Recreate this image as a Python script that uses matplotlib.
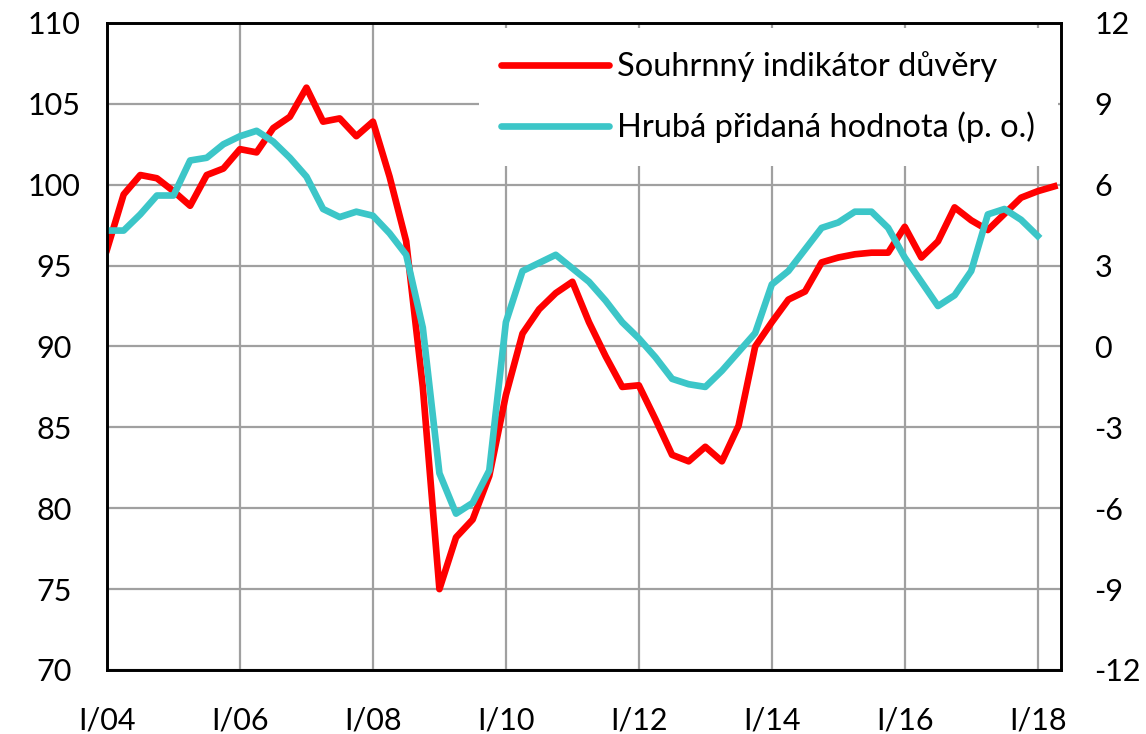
import numpy as np
import matplotlib
matplotlib.use("Agg")
import matplotlib.pyplot as plt

plt.rcParams['font.family'] = ['Lato', 'DejaVu Sans']
plt.rcParams['axes.unicode_minus'] = False

# ctvrtletni data od I/04
duvera = [96.0, 99.4, 100.6, 100.4, 99.6, 98.7, 100.6, 101.0, 102.2, 102.0,
          103.5, 104.2, 106.0, 103.9, 104.1, 103.0, 103.9, 100.5, 96.5, 87.5,
          75.0, 78.2, 79.3, 82.0, 87.0, 90.8, 92.3, 93.3, 94.0, 91.5,
          89.4, 87.5, 87.6, 85.5, 83.3, 82.9, 83.8, 82.9, 85.1, 90.0,
          91.5, 92.9, 93.4, 95.2, 95.5, 95.7, 95.8, 95.8, 97.4, 95.5,
          96.5, 98.6, 97.8, 97.2, 98.2, 99.2, 99.6, 99.9]
hph = [4.3, 4.3, 4.9, 5.6, 5.6, 6.9, 7.0, 7.5, 7.8, 8.0,
       7.6, 7.0, 6.3, 5.1, 4.8, 5.0, 4.85, 4.2, 3.4, 0.7,
       -4.7, -6.2, -5.8, -4.6, 0.9, 2.8, 3.1, 3.4, 2.9, 2.4,
       1.7, 0.9, 0.3, -0.4, -1.2, -1.4, -1.5, -0.9, -0.2, 0.5,
       2.3, 2.8, 3.6, 4.4, 4.6, 5.0, 5.0, 4.4, 3.3, 2.4,
       1.5, 1.9, 2.8, 4.9, 5.1, 4.7, 4.1]
tick_labels = ['I/04', 'I/06', 'I/08', 'I/10', 'I/12', 'I/14', 'I/16', 'I/18']
left_ticks = [70, 75, 80, 85, 90, 95, 100, 105, 110]
right_ticks = [-12, -9, -6, -3, 0, 3, 6, 9, 12]

red = '#FF0000'
teal = '#3CC6C8'
grid_col = '#A0A0A0'

fig = plt.figure(figsize=(11.46, 7.34), dpi=100)
ax1 = fig.add_axes([0.0934, 0.0872, 0.8324, 0.8815])
ax2 = ax1.twinx()

x1 = np.arange(len(duvera))
x2 = np.arange(len(hph))

l1, = ax1.plot(x1, duvera, color=red, lw=4.8, solid_joinstyle='round',
               label='Souhrnný indikátor důvěry')
l2, = ax2.plot(x2, hph, color=teal, lw=4.8, solid_joinstyle='round',
               label='Hrubá přidaná hodnota (p. o.)')

ax1.set_xlim(0, 57.4)
ax1.set_ylim(70, 110)
ax2.set_ylim(-12, 12)

ax1.set_xticks(np.arange(0, 57, 8))
ax1.set_xticklabels(tick_labels)
ax1.set_yticks(left_ticks)
ax2.set_yticks(right_ticks)

ax1.grid(True, color=grid_col, lw=1.6)
ax1.set_axisbelow(True)

for lab in ax1.get_yticklabels():
    lab.set_horizontalalignment('center')
ax1.tick_params(axis='y', length=0, pad=38, labelsize=22)
ax1.tick_params(axis='x', length=0, pad=26, labelsize=22)
ax2.tick_params(axis='y', length=0, pad=24, labelsize=22)

for ax in (ax1, ax2):
    for sp in ax.spines.values():
        sp.set_linewidth(1.9)
        sp.set_color('black')

leg = ax2.legend(handles=[l1, l2], loc='upper right',
                 bbox_to_anchor=(0.997, 0.992), fontsize=23.5,
                 frameon=True, fancybox=False, framealpha=1,
                 facecolor='white', edgecolor='none',
                 handlelength=3.3, handletextpad=0.25, labelspacing=0.9,
                 borderpad=0.7, borderaxespad=0)
for h in leg.get_lines():
    h.set_solid_capstyle('round')

fig.savefig('out.png', dpi=100)
